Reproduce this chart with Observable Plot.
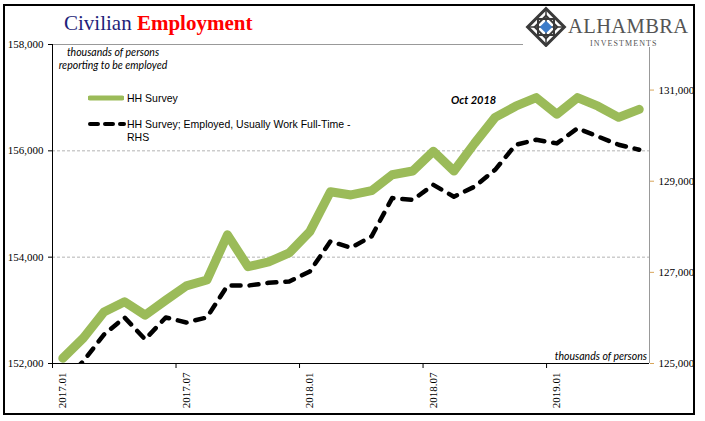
<!DOCTYPE html>
<html><head><meta charset="utf-8">
<script src="https://cdn.jsdelivr.net/npm/d3@7"></script>
<script src="https://cdn.jsdelivr.net/npm/@observablehq/plot@0.6"></script>
<style>
body{margin:0;background:#fff;}
#wrap{position:relative;width:705px;height:421px;overflow:hidden;background:#fff;}
#chart{position:absolute;left:0;top:0;}
.ov{position:absolute;white-space:nowrap;}
#border{position:absolute;left:3px;top:4px;width:692px;height:411px;border:2px solid #000;box-sizing:border-box;pointer-events:none;}
#title{left:64px;top:10px;font-family:"Liberation Serif",serif;font-size:21px;line-height:26px;}
#title .a{color:#1f1f7a;}
#title .b{color:#ff0000;font-weight:bold;}
.note{font-family:"Lato",sans-serif;font-style:italic;font-size:10.5px;color:#000;}
#note1{left:56px;top:46px;width:114px;text-align:center;line-height:13px;}
#note2{right:58px;top:350px;}
#oct{left:451px;top:93px;font-family:"Lato",sans-serif;font-style:italic;font-weight:bold;font-size:11px;}
.leg{font-family:"Liberation Sans",Arial,sans-serif;font-size:10.5px;color:#000;line-height:13px;}
#logo{position:absolute;left:523px;top:6px;width:170px;height:41px;background:#fff;}
</style></head>
<body>
<div id="wrap">
  <div id="chart"></div>
  <div class="ov" id="title"><span class="a">Civilian</span> <span class="b">Employment</span></div>
  <div class="ov note" id="note1">thousands of persons<br>reporting to be employed</div>
  <div class="ov note" id="note2">thousands of persons</div>
  <div class="ov" id="oct">Oct 2018</div>
  <div class="ov leg" style="left:88px;top:91px;">
    <svg width="36" height="14" style="vertical-align:middle"><line x1="2" y1="7" x2="34" y2="7" stroke="#9bbb59" stroke-width="5" stroke-linecap="round"/></svg>
  </div>
  <div class="ov leg" style="left:127px;top:92px;">HH Survey</div>
  <div class="ov leg" style="left:88px;top:117px;">
    <svg width="38" height="14"><line x1="2" y1="7" x2="36" y2="7" stroke="#000" stroke-width="4" stroke-dasharray="8,7" stroke-linecap="round"/></svg>
  </div>
  <div class="ov leg" style="left:127px;top:118px;">HH Survey; Employed, Usually Work Full-Time -<br>RHS</div>
  <div id="logo">
    <svg width="170" height="41" viewBox="0 0 170 41">
      <g transform="translate(23,21)">
        <rect x="-13" y="-13" width="26" height="26" transform="rotate(45)" fill="none" stroke="#3a3a3a" stroke-width="3"/>
        <rect x="-8" y="-8" width="16" height="16" fill="none" stroke="#3a3a3a" stroke-width="2"/>
        <rect x="-8" y="-8" width="16" height="16" transform="rotate(45)" fill="none" stroke="#3a3a3a" stroke-width="2"/>
        <line x1="-18" y1="0" x2="18" y2="0" stroke="#3a3a3a" stroke-width="1.5"/>
        <line x1="0" y1="-18" x2="0" y2="18" stroke="#3a3a3a" stroke-width="1.5"/>
        <rect x="-4.5" y="-4.5" width="9" height="9" transform="rotate(45)" fill="#3d7cc9"/>
      </g>
      <text x="45" y="27" font-family="Liberation Serif" font-size="20.5" fill="#555" letter-spacing="0.4">ALHAMBRA</text>
      <text x="67" y="39.5" font-family="Liberation Serif" font-size="8" fill="#555" letter-spacing="1.1">INVESTMENTS</text>
    </svg>
  </div>
  <div id="border"></div>
</div>
<script>
const months = ["2017.01","2017.02","2017.03","2017.04","2017.05","2017.06","2017.07","2017.08","2017.09","2017.10","2017.11","2017.12",
  "2018.01","2018.02","2018.03","2018.04","2018.05","2018.06","2018.07","2018.08","2018.09","2018.10","2018.11","2018.12",
  "2019.01","2019.02","2019.03","2019.04","2019.05"];
const hhSurvey = [152100,152480,152970,153160,152910,153190,153460,153570,154420,153820,153910,154080,
  154480,155230,155170,155250,155550,155620,155990,155620,156140,156630,156840,157000,
  156690,157000,156840,156630,156780];
const fullTimeRHS = [124600,125050,125635,126010,125530,126010,125900,126010,126710,126710,126770,126800,
  127020,127680,127540,127790,128630,128590,128920,128660,128880,129250,129800,129910,
  129830,130160,129980,129800,129690];
const xTickLabels = ["2017.01","2017.07","2018.01","2018.07","2019.01"];
const leftTicks = [152000,154000,156000,158000];
const rightTicks = [125000,127000,129000,131000];
const leftDomain = [152000,158000];
const rightDomain = [125000,132000];
const gridValues = [154000,156000];

const toLeft = d3.scaleLinear().domain(rightDomain).range(leftDomain);
const rows = months.map((m,i)=>({i, m, hh: hhSurvey[i], ft: toLeft(fullTimeRHS[i])}));
const labelIdx = xTickLabels.map(l => months.indexOf(l));
const boundaryIdx = labelIdx.map(i => i - 0.5);
const fmt = d3.format(",");

const chart = Plot.plot({
  width: 705, height: 421,
  marginLeft: 52, marginRight: 56, marginTop: 44, marginBottom: 58,
  style: {fontFamily: "Liberation Serif", fontSize: "11px", background: "transparent", color: "#000"},
  x: {type: "linear", domain: [-0.5, months.length - 0.5]},
  y: {domain: leftDomain},
  marks: [
    Plot.ruleY(gridValues, {stroke: "#b4b4b4", strokeDasharray: "3,2"}),
    Plot.ruleY([leftDomain[1]], {stroke: "#999"}),
    Plot.ruleX([months.length - 0.5], {stroke: "#999"}),
    Plot.line(rows, {x: "i", y: "hh", stroke: "#9bbb59", strokeWidth: 9, strokeLinecap: "round", strokeLinejoin: "round"}),
    Plot.line(rows, {x: "i", y: "ft", stroke: "#000", strokeWidth: 4.5, strokeDasharray: "9,9", strokeLinecap: "round", strokeLinejoin: "round", clip: true}),
    Plot.ruleX([-0.5], {stroke: "#000"}),
    Plot.ruleY([leftDomain[0]], {stroke: "#000"}),
    Plot.axisY({ticks: leftTicks, tickFormat: fmt, tickSize: 4, tickPadding: 5, label: null, anchor: "left"}),
    Plot.axisY({ticks: rightTicks.map(toLeft), tickFormat: v => fmt(Math.round(toLeft.invert(v))), tickSize: 4, tickPadding: 5, label: null, anchor: "right", stroke: "#d8a55a", fill: "#000"}),
    Plot.axisX({ticks: boundaryIdx, tickFormat: () => "", tickSize: 5, label: null}),
    Plot.axisX({ticks: labelIdx, tickFormat: i => months[i], tickSize: 0, tickPadding: 9, tickRotate: -90, label: null})
  ]
});
document.getElementById("chart").appendChild(chart);
</script>
</body></html>
